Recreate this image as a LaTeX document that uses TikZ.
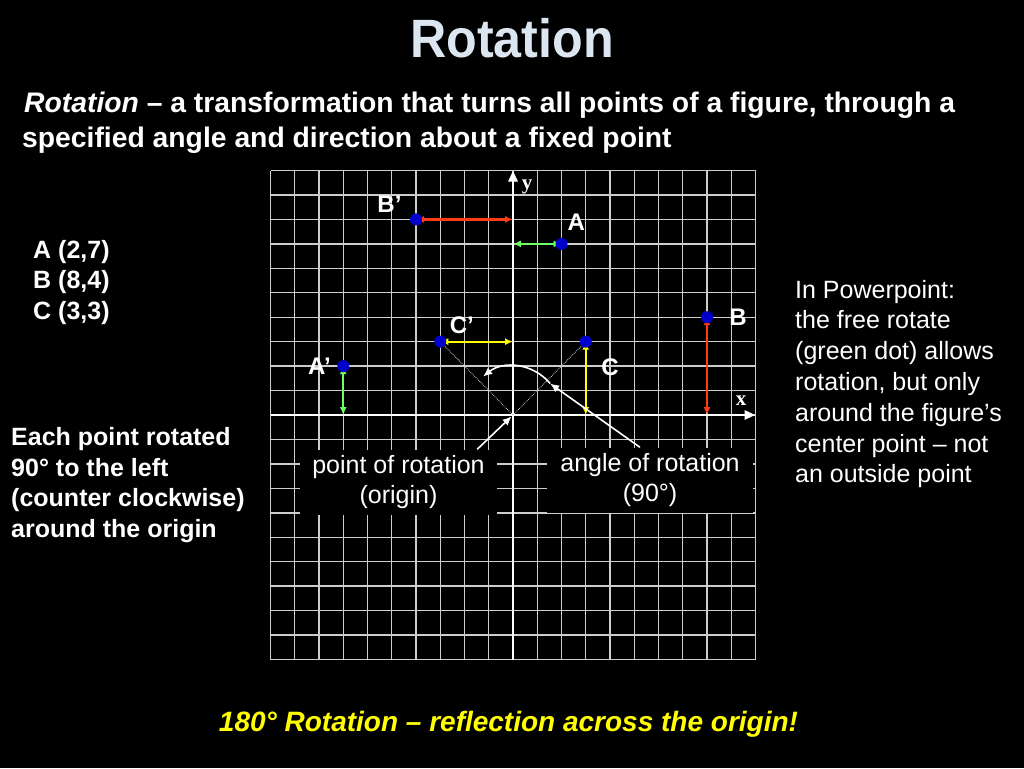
\documentclass[tikz,border=0pt]{standalone}
\usepackage{fontspec}
\setmainfont{Liberation Sans}
\newfontfamily\axisfont{Liberation Serif}
\usetikzlibrary{arrows.meta,positioning}

\definecolor{titlegray}{RGB}{220,230,240}
\definecolor{gridgray}{RGB}{205,205,205}
\definecolor{ptblue}{RGB}{0,0,205}
\definecolor{arrred}{RGB}{255,60,20}
\definecolor{arrgreen}{RGB}{110,255,100}
\definecolor{arryellow}{RGB}{255,255,0}

\tikzset{
  titletext/.style={text=titlegray, font=\fontsize{54}{60}\selectfont\bfseries, inner sep=0pt},
  deftext/.style={text=white, font=\fontsize{28.3}{34}\selectfont\bfseries, inner sep=0pt},
  sidebf/.style={text=white, font=\fontsize{25}{30}\selectfont\bfseries, inner sep=0pt, anchor=base west},
  siderm/.style={text=white, font=\fontsize{25}{30}\selectfont, inner sep=0pt, anchor=base west},
  gridline/.style={draw=gridgray, line width=1.4pt},
  axis/.style={draw=white, line width=2.8pt, -{Triangle[length=11pt,width=9pt]}},
  axislabel/.style={text=white, font=\axisfont\fontsize{21}{24}\selectfont\bfseries, inner sep=0pt},
  dot/.style={circle, fill=ptblue, minimum size=12pt, inner sep=0pt},
  ptlabel/.style={text=white, font=\fontsize{24}{28}\selectfont\bfseries, inner sep=0pt},
  dbl/.style={line width=2.3pt, {Latex[length=8pt,width=7pt]}-{Latex[length=8pt,width=7pt]}},
  ray/.style={draw=gridgray, line width=0.8pt, densely dotted},
  turn/.style={draw=white, line width=1.6pt, -{Latex[length=9pt,width=8pt]}},
  pointer/.style={draw=white, line width=1.6pt, -{Latex[length=9pt,width=8pt]}},
  infobox/.style={fill=black, text=white, font=\fontsize{25}{30}\selectfont, align=center, inner sep=0pt, minimum height=65pt},
  note/.style={text=arryellow, font=\fontsize{28}{34}\selectfont\bfseries\itshape, inner sep=0pt}
}

\begin{document}
\begin{tikzpicture}[x=1pt, y=-1pt]
\fill[black] (0,0) rectangle (1024,768);
\useasboundingbox (0,0) rectangle (1024,768);

% title and definition
\node[titletext, anchor=base] (title) at (512,58) {\scalebox{0.93}[1]{Rotation}};
\node[deftext, anchor=base west] (def1) at (24,112) {\textit{Rotation} – a transformation that turns all points of a figure, through a};
\node[deftext, anchor=base west] (def2) at (22,147) {specified angle and direction about a fixed point};

% original points
\node[sidebf] (listA) at (33,258) {A (2,7)};
\node[sidebf] (listB) at (33,288.5) {B (8,4)};
\node[sidebf] (listC) at (33,319) {C (3,3)};

% left remark
\node[sidebf] (each1) at (11,445) {Each point rotated};
\node[sidebf] (each2) at (11,476) {90° to the left};
\node[sidebf] (each3) at (11,506.5) {(counter clockwise)};
\node[sidebf] (each4) at (11,537) {around the origin};

% right remark
\node[siderm] (pp1) at (795,298) {In Powerpoint:};
\node[siderm] (pp2) at (795,328.8) {the free rotate};
\node[siderm] (pp3) at (795,359.6) {(green dot) allows};
\node[siderm] (pp4) at (795,390.4) {rotation, but only};
\node[siderm] (pp5) at (795,421.2) {around the figure’s};
\node[siderm] (pp6) at (795,452) {center point – not};
\node[siderm] (pp7) at (795,482.8) {an outside point};

% coordinate plane
\begin{scope}[shift={(513pt,-415pt)}, x=24.25pt, y=24.45pt]
\draw[gridline, step=1] (-10,-10) grid (10,10);
\draw[axis] (-10,0) -- (10,0);
\draw[axis] (0,-10) -- (0,10);
\coordinate (O) at (0,0);

% feet on the axes
\coordinate (A0) at (0,7);
\coordinate (B0) at (8,0);
\coordinate (C0) at (3,0);
\coordinate (Ar0) at (-7,0);
\coordinate (Br0) at (0,8);
\coordinate (Cr0) at (0,3);
\coordinate (arcend) at (40:2);

% angle of rotation
\draw[ray] (O) -- (3,3);
\draw[ray] (O) -- (-3,3);
\draw[turn] (arcend) arc[start angle=40, end angle=128, radius=2];

\draw[dbl, arrgreen] (A0) -- (2,7);
\draw[dbl, arrred] (B0) -- (8,4);
\draw[dbl, arryellow] (C0) -- (3,3);
\draw[dbl, arrgreen] (Ar0) -- (-7,2);
\draw[dbl, arrred] (Br0) -- (-4,8);
\draw[dbl, arryellow] (Cr0) -- (-3,3);

\node[dot] (A) at (2,7) {};
\node[dot] (B) at (8,4) {};
\node[dot] (C) at (3,3) {};
\node[dot] (Ar) at (-7,2) {};
\node[dot] (Br) at (-4,8) {};
\node[dot] (Cr) at (-3,3) {};
\end{scope}

\node[ptlabel, above right=9pt and 1.5pt of A] (labA) {A};
\node[ptlabel, right=16pt of B] (labB) {B};
\node[ptlabel, below right=13pt and 11pt of C] (labC) {C};
\node[ptlabel, left=6pt of Ar] (labAr) {A’};
\node[ptlabel, above left=2pt and 10pt of Br] (labBr) {B’};
\node[ptlabel, above right=3pt and 5pt of Cr] (labCr) {C’};

\node[axislabel] (ylab) at (527,187) {y};
\node[axislabel] (xlab) at (741,401) {x};

% callouts
\node[infobox, minimum width=197pt] (ptbox) at (398.5,482) {point of rotation\\(origin)};
\node[infobox, minimum width=206pt] (angbox) at (650,480) {angle of rotation\\(90°)};
\draw[pointer, shorten >=2pt] ([xshift=-20pt]ptbox.north east) -- (O);
\draw[pointer] ([xshift=-10pt]angbox.north) -- (arcend);

\node[note, anchor=base] (note) at (508.5,731) {180° Rotation – reflection across the origin!};
\end{tikzpicture}
\end{document}
